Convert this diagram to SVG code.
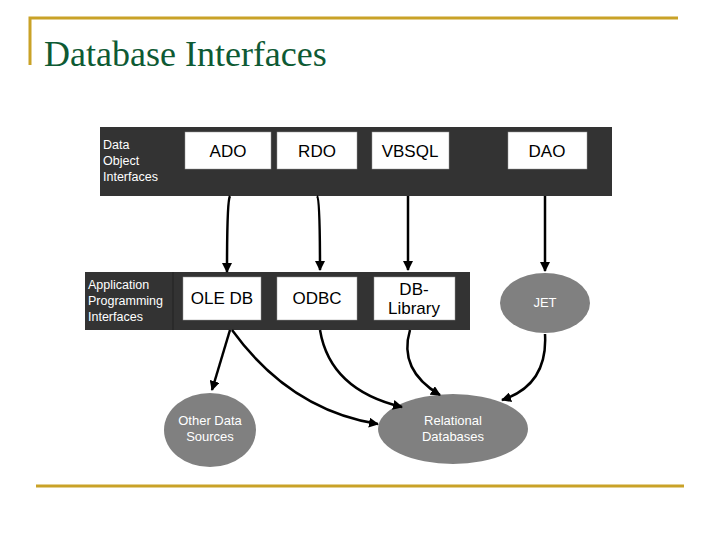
<svg xmlns="http://www.w3.org/2000/svg" width="720" height="540" viewBox="0 0 720 540">
<defs>
<marker id="ah" viewBox="0 0 10 10" refX="9" refY="5" markerWidth="4" markerHeight="4" orient="auto"><path d="M0,0 L10,5 L0,10 z" fill="#000"/></marker>
<style>
.bar{fill:#333333}
.box{fill:#fff;stroke:#999;stroke-width:0.5}
.bt{font-family:"Liberation Sans",Arial,sans-serif;font-size:17px;fill:#000;text-anchor:middle}
.lt{font-family:"Liberation Sans",Arial,sans-serif;font-size:12.5px;fill:#fff}
.ell{fill:#808080}
.et{font-family:"Liberation Sans",Arial,sans-serif;font-size:13px;fill:#fff;text-anchor:middle}
.c{fill:none;stroke:#000;stroke-width:2.5;marker-end:url(#ah)}
.gold{stroke:#C9A227;stroke-width:3;fill:none}
</style>
</defs>
<rect width="720" height="540" fill="#fff"/>
<path class="gold" d="M30,65 V18 H678"/>
<line class="gold" x1="36" y1="486" x2="684" y2="486"/>
<text x="44" y="66" font-family="Liberation Serif,serif" font-size="36" fill="#0E5A34">Database Interfaces</text>
<g id="doi">
<rect class="bar" x="100" y="127" width="512" height="69"/>
<text class="lt" x="103" y="149">Data</text><text class="lt" x="103" y="165">Object</text><text class="lt" x="103" y="181">Interfaces</text>
</g>
<g id="ado"><rect class="box" x="185" y="132" width="86" height="37"/><text class="bt" x="228" y="157">ADO</text></g>
<g id="rdo"><rect class="box" x="277" y="132" width="80" height="37"/><text class="bt" x="317" y="157">RDO</text></g>
<g id="vbsql"><rect class="box" x="372" y="132" width="77" height="37"/><text class="bt" x="410" y="157">VBSQL</text></g>
<g id="dao"><rect class="box" x="508" y="132" width="79" height="37"/><text class="bt" x="547" y="157">DAO</text></g>
<g id="api">
<rect class="bar" x="85" y="272" width="385" height="58"/>
<line x1="173" y1="272" x2="173" y2="330" stroke="#222" stroke-width="1"/>
<text class="lt" x="88" y="289">Application</text><text class="lt" x="88" y="305">Programming</text><text class="lt" x="88" y="321">Interfaces</text>
</g>
<g id="oledb"><rect class="box" x="183" y="277" width="78" height="43"/><text class="bt" x="222" y="304">OLE DB</text></g>
<g id="odbc"><rect class="box" x="277" y="277" width="80" height="43"/><text class="bt" x="317" y="304">ODBC</text></g>
<g id="dblib"><rect class="box" x="374" y="277" width="81" height="43"/><text class="bt" x="414" y="295">DB-</text><text class="bt" x="414" y="314">Library</text></g>
<g id="jet"><ellipse class="ell" cx="545" cy="303" rx="45" ry="30"/><text class="et" x="545" y="307">JET</text></g>
<g id="other"><ellipse class="ell" cx="210" cy="430" rx="46" ry="37"/><text class="et" x="210" y="425">Other Data</text><text class="et" x="210" y="441">Sources</text></g>
<g id="rel"><ellipse class="ell" cx="453" cy="429" rx="75" ry="35"/><text class="et" x="453" y="425">Relational</text><text class="et" x="453" y="441">Databases</text></g>
<g id="connectors">
<path class="c" d="M230,196 Q227,200 227,272"/>
<path class="c" d="M317,196 Q320,198 320,270"/>
<path class="c" d="M408,196 V270"/>
<path class="c" d="M545,196 V271"/>
<path class="c" d="M230,330 L212,390"/>
<path class="c" d="M232,330 Q290,410 378,424"/>
<path class="c" d="M320,330 Q330,390 402,407"/>
<path class="c" d="M410,330 Q398,370 440,395"/>
<path class="c" d="M545,334 Q548,385 502,400"/>
</g>
</svg>
